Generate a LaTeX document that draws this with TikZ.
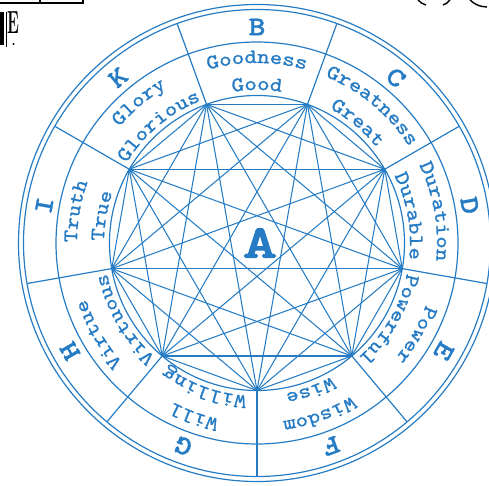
\documentclass[tikz,border=0pt]{standalone}
\usepackage{fontspec}
\newfontfamily\wordfam{lmmono10-regular.otf}[FakeStretch=1.15,FakeBold=1.2]
\newfontfamily\letfam{lmmonolt10-bold.otf}[FakeStretch=1.2,FakeBold=1.2]
\newfontfamily\bigfam{lmmonolt10-bold.otf}[FakeStretch=1.4,FakeBold=2]
\usetikzlibrary{decorations.text,calc}
\definecolor{ablue}{RGB}{38,124,196}
\newcommand\wfont{\wordfam\fontsize{20.5}{20.5}\selectfont}
\newcommand\ringtext[3]{\path[decorate,decoration={text along path,text={|\wfont\color{ablue}|#3},text align=center}] ($(C)+(#1+22:#2pt)$) arc[start angle=#1+22,end angle=#1-22,radius=#2pt];}
\begin{document}
\begin{tikzpicture}[x=1pt,y=1pt,
  ring/.style={draw=ablue,line width=1.2pt},
  chord/.style={draw=ablue,line width=1.05pt},
  letter/.style={text=ablue,font=\letfam\fontsize{27}{27}\selectfont,inner sep=0pt},
  ink/.style={draw=black,line width=1.4pt}]
\useasboundingbox (0,0) rectangle (489,485);
\coordinate (C) at (257,242);
% circles
\draw[ring] (C) circle[radius=238.5pt];
\draw[ring] (C) circle[radius=233.5pt];
\draw[ring] (C) circle[radius=201pt];
\draw[ring] (C) circle[radius=147.5pt];
% vertices and dividers
\foreach \i in {0,...,8}{
  \coordinate (v\i) at ($(C)+(270+40*\i:147.5pt)$);
  \coordinate (o\i) at ($(C)+(270+40*\i:233.5pt)$);
  \draw[ring] (v\i) -- (o\i);
}
% all chords
\foreach \i in {0,...,7}{
  \pgfmathtruncatemacro\k{\i+1}
  \foreach \j in {\k,...,8}{\draw[chord] (v\i) -- (v\j);}
}
% letters
\foreach \a/\l in {90/B,50/C,10/D,-30/E,-70/F,-110/G,-150/H,170/I,130/K}{
  \node[letter,rotate=\a-90] (L\l) at ($(C)+(\a:216pt)$) {\l};
}
% words
\ringtext{90}{180}{Goodness}
\ringtext{90}{153}{Good}
\ringtext{50}{180}{Greatness}
\ringtext{50}{153}{Great}
\ringtext{10}{180}{Duration}
\ringtext{10}{153}{Durable}
\ringtext{-30}{180}{Power}
\ringtext{-30}{153}{Powerful}
\ringtext{-70}{180}{Wisdom}
\ringtext{-70}{153}{Wise}
\ringtext{-110}{180}{Will}
\ringtext{-110}{153}{Willing}
\ringtext{-150}{180}{Virtue}
\ringtext{-150}{153}{Virtuous}
\ringtext{170}{180}{Truth}
\ringtext{170}{153}{True}
\ringtext{130}{180}{Glory}
\ringtext{130}{153}{Glorious}
% centre
\node[text=ablue,font=\bigfam\fontsize{47}{47}\selectfont,inner sep=0pt] (A) at (260,242) {A};
% cropped page fragments (black)
\draw[ink] (0,482) -- (83,482) -- (83,485);
\draw[ink] (40,482) -- (40,485);
\fill[black] (0,440) rectangle (3.5,473);
\draw[black,line width=0.8pt] (6,438) -- (6,473);
\node[font=\bfseries\fontsize{32}{32}\selectfont,xscale=0.5,inner sep=0pt,anchor=south west] (E0) at (7,451) {E};
\fill[black] (13.5,441) circle[radius=1.2pt];
\draw[ink] (418,485) to[bend right=15] (426,480);
\draw[ink] (450,485) to[bend left=15] (443,480);
\draw[ink] (470,485) to[bend right=20] (487,478);
\end{tikzpicture}
\end{document}
